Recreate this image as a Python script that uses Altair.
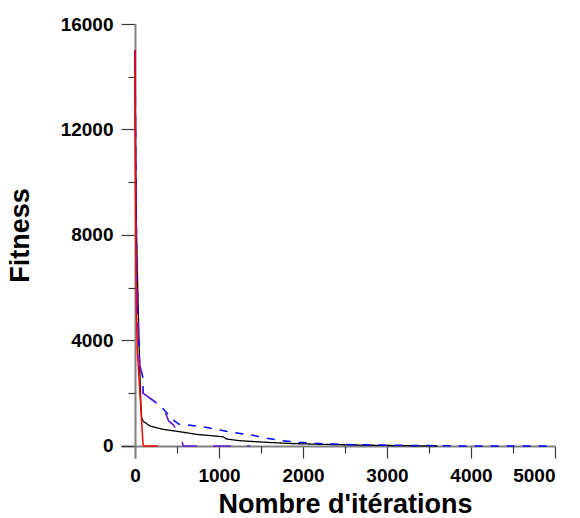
import altair as alt
import pandas as pd

# ---- data ----
black_iter = [0, 8, 18, 36, 55, 70, 80, 100, 178, 337, 535, 734, 1050, 1090, 1250, 1450, 1650, 1900, 2200, 2600, 3000, 3600]
black_fit = [15000, 10500, 8000, 5500, 3000, 1500, 1050, 930, 760, 630, 540, 440, 350, 265, 200, 160, 125, 90, 65, 40, 20, 0]

blue_iter = [0, 8, 20, 36, 56, 95, 96, 235, 337, 455, 520, 615, 840, 1010, 1190, 1390, 1570, 1750, 1950, 2150, 2350, 2600, 3000, 3500, 4000, 4900]
blue_fit = [15000, 11000, 7000, 4780, 3070, 2580, 2000, 1680, 1400, 985, 830, 800, 710, 605, 500, 415, 290, 200, 140, 100, 75, 50, 30, 15, 0, 0]

purple_iter = [0, 10, 24, 40, 56, 95, 96, 235, 340, 400, 456, 535, 575, 1370]
purple_fit = [15000, 9500, 5800, 4000, 3070, 2580, 2000, 1680, 1450, 950, 800, 415, 0, 0]

red_iter = [0, 5, 15, 27, 95, 105, 270]
red_fit = [15000, 10000, 5530, 3640, 75, 0, 0]

series_names = ["noir", "bleu", "violet", "rouge"]
series_iters = [black_iter, blue_iter, purple_iter, red_iter]
series_fits = [black_fit, blue_fit, purple_fit, red_fit]

x_major = [0, 1000, 2000, 3000, 4000, 5000]
x_minor = [500, 1500, 2500, 3500, 4500]
y_major = [0, 4000, 8000, 12000, 16000]
y_minor = [2000, 6000, 10000, 14000]

# ---- styles ----
styles = {
    "noir": dict(color="#000000", dash=[1, 0], width=1.3),
    "bleu": dict(color="#0000FF", dash=[8, 8], width=1.5),
    "violet": dict(color="#6A1BD0", dash=[18, 16], width=1.6),
    "rouge": dict(color="#FF0000", dash=[1, 0], width=1.5),
}

FONT = "Liberation Sans"

common = dict(
    tickColor="#3a3a3a",
    tickWidth=1.2,
    grid=False,
    labelFont=FONT,
    labelFontWeight="bold",
    labelFontSize=19,
    labelColor="#000000",
    labelPadding=8,
    titleFont=FONT,
    titleFontWeight="bold",
    titleFontSize=27,
    titleColor="#000000",
)

x_axis_major = alt.Axis(
    values=x_major, format="d", orient="bottom", offset=-12,
    tickSize=12, domainColor="#808080", domainWidth=2,
    title="Nombre d'itérations", titleX=224, titleY=66,
    titleBaseline="alphabetic", titleAnchor="middle", **common,
)
y_axis_major = alt.Axis(
    values=y_major, format="d", orient="left", offset=-14,
    tickSize=14, domainColor="#808080", domainWidth=2,
    title="Fitness", titleAngle=-90, titleX=-107, titleY=211,
    titleBaseline="alphabetic", titleAnchor="middle", **common,
)
x_axis_minor = alt.Axis(
    values=x_minor, orient="bottom", offset=-12, tickSize=7,
    labels=False, domain=False, title="", tickColor="#3a3a3a",
    tickWidth=1.2, grid=False,
)
y_axis_minor = alt.Axis(
    values=y_minor, orient="left", offset=-14, tickSize=7,
    labels=False, domain=False, title="", tickColor="#3a3a3a",
    tickWidth=1.2, grid=False,
)

x_scale = alt.Scale(domain=[-167, 5000], nice=False, zero=False)
y_scale = alt.Scale(domain=[-455, 16000], nice=False, zero=False)

layers = []
for i, (name, its, fits) in enumerate(zip(series_names, series_iters, series_fits)):
    df = pd.DataFrame({"iteration": its, "fitness": fits, "ordre": list(range(len(its)))})
    st = styles[name]
    if i == 0:
        xa, ya = x_axis_major, y_axis_major
    elif i == 1:
        xa, ya = x_axis_minor, y_axis_minor
    else:
        xa, ya = None, None
    layer = alt.Chart(df).mark_line(
        color=st["color"], strokeDash=st["dash"], strokeWidth=st["width"], clip=True
    ).encode(
        x=alt.X("iteration:Q", scale=x_scale, axis=xa),
        y=alt.Y("fitness:Q", scale=y_scale, axis=ya),
        order="ordre:Q",
    )
    layers.append(layer)

chart = alt.layer(*layers).resolve_axis(x="independent", y="independent").properties(
    width=434,
    height=434,
    autosize=alt.AutoSizeParams(type="none"),
    padding={"left": 121, "top": 24, "right": 25, "bottom": 60},
    background="#ffffff",
).configure_view(strokeWidth=0)

chart.save("out.html", embed_options={"renderer": "svg", "actions": False})
